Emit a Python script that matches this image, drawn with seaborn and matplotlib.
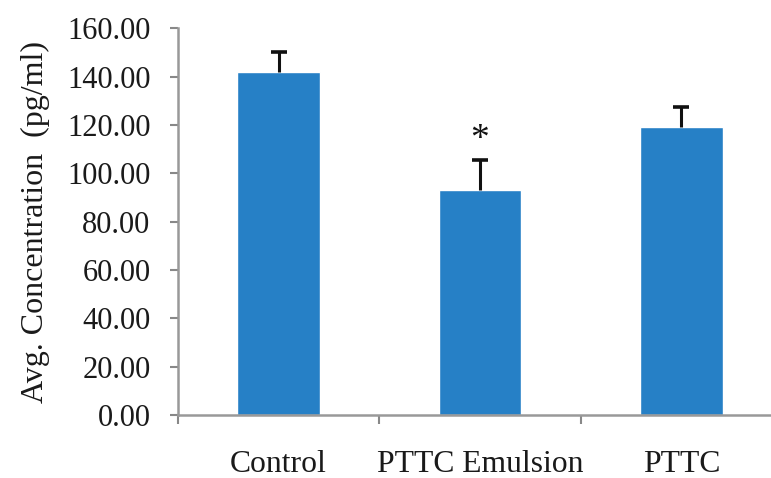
import matplotlib
matplotlib.use("Agg")
import matplotlib.pyplot as plt
import seaborn as sns
import numpy as np
from matplotlib.ticker import FormatStrFormatter, FixedLocator

categories = ["Control", "PTTC Emulsion", "PTTC"]
values = [141.9, 93.1, 119.3]
errors = [8.5, 12.5, 8.1]
marks = ["", "*", ""]
yticks = [0, 20, 40, 60, 80, 100, 120, 140, 160]

sns.set_style("white")
plt.rcParams["font.family"] = ["Liberation Serif", "DejaVu Serif"]

fig = plt.figure(figsize=(7.71, 4.78), dpi=100)
ax = fig.add_axes([178/771, 63/478, 604/771, 386.7/478])

bar_color = "#2680C6"
sns.barplot(x=categories, y=values, color=bar_color, width=0.41,
            errorbar=None, ax=ax, saturation=1)
xs = np.arange(len(categories))
_, caps, _ = ax.errorbar(xs, values, yerr=[np.zeros(len(errors)), errors],
                         fmt="none", ecolor="#111111", elinewidth=2.2,
                         capsize=5.5, capthick=2.6)
caps[0].set_visible(False)
for x, v, e, m in zip(xs, values, errors, marks):
    if m:
        ax.text(x, v + e + 4.3, m, ha="center", va="baseline", fontsize=27,
                color="#111111")

ax.set_xlim(-0.5, 2.5)
ax.set_ylim(0, 160)
ax.set_yticks(yticks)
ax.yaxis.set_major_formatter(FormatStrFormatter("%.2f"))
ax.tick_params(axis="y", which="major", length=5.8, width=1.5, color="#888888",
               labelsize=22, labelcolor="#1a1a1a", pad=14, direction="out", left=True)
ax.tick_params(axis="x", which="major", length=0, labelsize=22.8,
               labelcolor="#1a1a1a", pad=25)
ax.xaxis.set_minor_locator(FixedLocator([-0.5, 0.5, 1.5, 2.5]))
ax.tick_params(axis="x", which="minor", length=6.5, width=1.5, color="#888888",
               direction="out", bottom=True)
for s in ["top", "right"]:
    ax.spines[s].set_visible(False)
for s in ["left", "bottom"]:
    ax.spines[s].set_color("#999999")
    ax.spines[s].set_linewidth(1.8)
ax.set_xlabel("")
ax.set_ylabel("Avg. Concentration  (pg/ml)", fontsize=23, color="#1a1a1a", labelpad=12)

fig.savefig("out.png", dpi=100)
